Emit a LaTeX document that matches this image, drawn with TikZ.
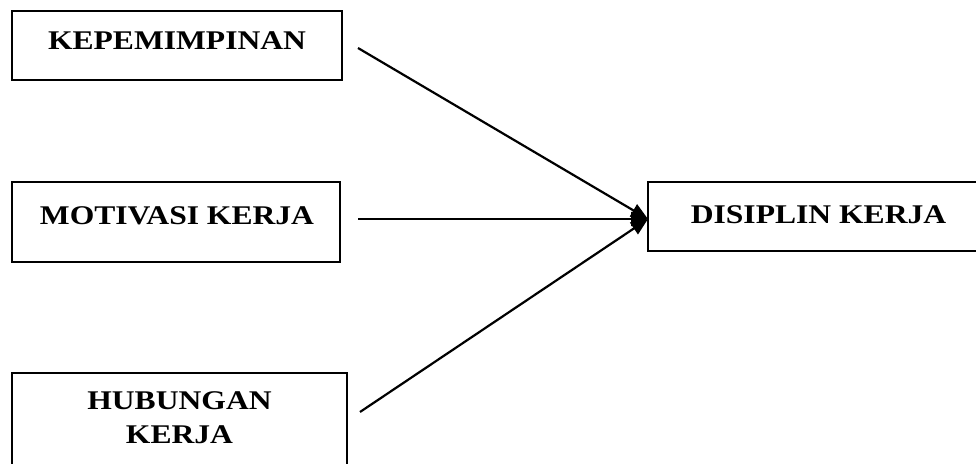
\documentclass[tikz,border=0pt]{standalone}
\usepackage{fontspec}
\setmainfont{Liberation Serif}[FakeStretch=1.17]
\usetikzlibrary{arrows.meta}
\begin{document}
\begin{tikzpicture}[x=1pt,y=-1pt,
  box/.style={draw, line width=1.6pt, minimum width=#1, inner sep=0pt},
  lbl/.style={font=\fontsize{27}{34}\selectfont\bfseries, inner sep=0pt, align=center},
  conn/.style={line width=2.2pt, -{Triangle[length=17pt,width=14pt]}}]
\useasboundingbox (0,0) rectangle (976,463);
% boxes
\node[box=330pt, minimum height=69pt] (b1) at (177,45.5) {};
\node[box=328pt, minimum height=80pt] (b2) at (176,222) {};
\node[box=335pt, minimum height=120pt] (b3) at (179.5,433) {};
\node[box=341pt, minimum height=69pt] (b4) at (818.5,216.5) {};
% labels
\node[lbl] (t1) at (177,41) {KEPEMIMPINAN};
\node[lbl] (t2) at (177,216) {MOTIVASI KERJA};
\node[lbl] (t3) at (179.5,418) {HUBUNGAN\\KERJA};
\node[lbl] (t4) at (818.5,215) {DISIPLIN KERJA};
% connectors
\coordinate (s1) at (358,48);
\coordinate (s2) at (358,219);
\coordinate (s3) at (360,412);
\coordinate (tip) at (648,219);
\draw[conn] (s1) -- (tip);
\draw[conn] (s2) -- (tip);
\draw[conn] (s3) -- (tip);
\end{tikzpicture}
\end{document}
